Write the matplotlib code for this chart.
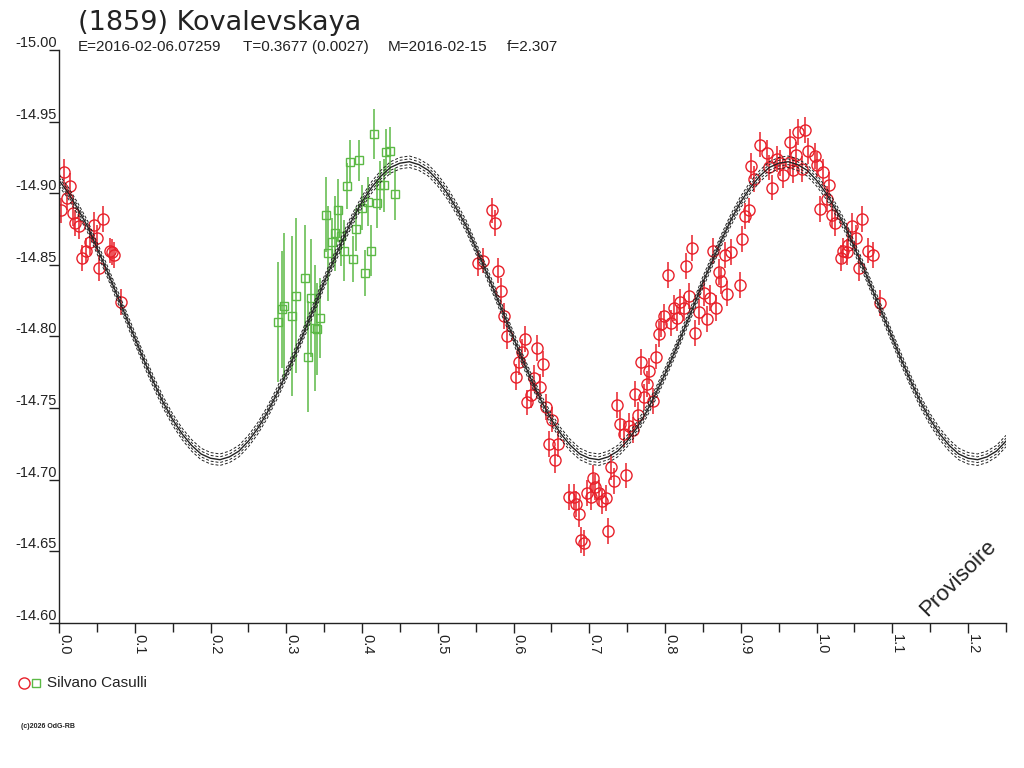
import matplotlib
matplotlib.use("Agg")
import matplotlib.pyplot as plt
from matplotlib.lines import Line2D
from matplotlib.ticker import MultipleLocator, FormatStrFormatter
import matplotlib.transforms as mtransforms

plt.rcParams['font.family'] = ['Liberation Sans', 'DejaVu Sans']

# ---------------- data ----------------
title = "(1859) Kovalevskaya"
sub_E = "E=2016-02-06.07259"
sub_T = "T=0.3677 (0.0027)"
sub_M = "M=2016-02-15"
sub_f = "f=2.307"
observer = "Silvano Casulli"

# fitted model curve, phase step 0.0125 from 0.0 to 1.25
curve_phase_step = 0.0125
curve_mag = [
    -14.909, -14.900, -14.889, -14.877, -14.862, -14.847, -14.831, -14.815, -14.799, -14.783,
    -14.768, -14.754, -14.742, -14.732, -14.724, -14.718, -14.715, -14.714, -14.716, -14.720,
    -14.727, -14.736, -14.747, -14.760, -14.774, -14.789, -14.805, -14.821, -14.838, -14.853,
    -14.868, -14.882, -14.894, -14.904, -14.912, -14.918, -14.921, -14.922, -14.920, -14.916,
    -14.909, -14.900, -14.889, -14.877, -14.862, -14.847, -14.831, -14.815, -14.799, -14.783,
    -14.768, -14.754, -14.742, -14.732, -14.724, -14.718, -14.715, -14.714, -14.716, -14.720,
    -14.727, -14.736, -14.747, -14.760, -14.774, -14.789, -14.805, -14.821, -14.838, -14.853,
    -14.868, -14.882, -14.894, -14.904, -14.912, -14.918, -14.921, -14.922, -14.920, -14.916,
    -14.909, -14.900, -14.889, -14.877, -14.862, -14.847, -14.831, -14.815, -14.799, -14.783,
    -14.768, -14.754, -14.742, -14.732, -14.724, -14.718, -14.715, -14.714, -14.716, -14.720,
    -14.727,
]
curve_spread = [-0.004, -0.002, 0.002, 0.004]

# red circles (session 1)
red_phase = [
    0.007, 0.0145, 0.010, 0.003, 0.018, 0.0215, 0.026, 0.046, 0.058, 0.050,
    0.041, 0.036, 0.030, 0.053, 0.067, 0.073, 0.070, 0.0815,
    0.571, 0.575, 0.553, 0.560, 0.5795, 0.583, 0.587, 0.591, 0.6147, 0.6305,
    0.6116, 0.6384, 0.6067, 0.6037, 0.6275, 0.6345, 0.6235, 0.618, 0.6424, 0.6509,
    0.6464, 0.6583, 0.6543,
    0.705, 0.7292, 0.7332, 0.749, 0.6737, 0.6803, 0.683, 0.686, 0.697, 0.7024,
    0.708, 0.7133, 0.7169, 0.7222, 0.7248, 0.6892, 0.6935,
    0.7367, 0.7411, 0.752, 0.7454,
    0.8349, 0.827, 0.8036, 0.8626, 0.8785, 0.8864, 0.9019, 0.871, 0.874, 0.882,
    0.8983, 0.8511, 0.8587, 0.8666, 0.8313, 0.8194, 0.8247, 0.8115, 0.8445, 0.8547,
    0.816, 0.7992, 0.8081, 0.7952, 0.7917, 0.8392, 0.7882, 0.7684, 0.7794, 0.7763,
    0.7605, 0.7728, 0.7843, 0.764, 0.7579,
    0.9251, 0.934, 0.9137, 0.9172, 0.9415, 0.937, 0.948, 0.9515, 0.9555, 0.9647,
    0.9758, 0.9845, 0.9727, 0.9647, 0.9692, 0.9811, 0.9885, 0.9977, 1.0009, 1.0088,
    1.0163, 1.0132, 1.0044, 1.0198, 1.0242, 1.0472, 1.0594, 1.0515, 1.0419, 1.0353,
    1.0317, 1.0406, 1.0683, 1.0749, 1.0559, 1.0836, 0.9106, 0.9053,
]
red_mag = [
    -14.915, -14.905, -14.897, -14.888, -14.886, -14.879, -14.877, -14.878, -14.882, -14.869,
    -14.866, -14.860, -14.855, -14.848, -14.860, -14.857, -14.859, -14.824,
    -14.888, -14.879, -14.851, -14.853, -14.846, -14.832, -14.8145, -14.800, -14.7985, -14.792,
    -14.789, -14.781, -14.782, -14.7715, -14.771, -14.7645, -14.759, -14.754, -14.751, -14.742,
    -14.725, -14.725, -14.714,
    -14.701, -14.7087, -14.699, -14.703, -14.688, -14.688, -14.683, -14.676, -14.691, -14.688,
    -14.695, -14.691, -14.685, -14.687, -14.664, -14.658, -14.656,
    -14.752, -14.739, -14.7375, -14.732,
    -14.8616, -14.849, -14.843, -14.8597, -14.857, -14.859, -14.868, -14.845, -14.839, -14.830,
    -14.836, -14.8306, -14.827, -14.8197, -14.8285, -14.824, -14.820, -14.820, -14.817, -14.812,
    -14.813, -14.814, -14.8096, -14.8085, -14.8017, -14.8027, -14.786, -14.782, -14.776, -14.767,
    -14.760, -14.758, -14.755, -14.745, -14.735,
    -14.934, -14.928, -14.919, -14.910, -14.904, -14.918, -14.924, -14.921, -14.913, -14.936,
    -14.9425, -14.944, -14.927, -14.922, -14.916, -14.917, -14.9295, -14.926, -14.920, -14.915,
    -14.9055, -14.896, -14.889, -14.885, -14.879, -14.877, -14.882, -14.869, -14.864, -14.860,
    -14.855, -14.859, -14.860, -14.857, -14.8476, -14.8236, -14.888, -14.884,
]
red_err = 0.009

# green squares (session 2)
green_phase = [
    0.2897, 0.2937, 0.2976, 0.3082, 0.3122, 0.325, 0.3289, 0.3325, 0.3373, 0.3404,
    0.3448, 0.3527, 0.3557, 0.3602, 0.3646, 0.3686, 0.3725, 0.3765, 0.380, 0.384,
    0.3884, 0.3923, 0.3963, 0.4003, 0.4042, 0.4082, 0.4122, 0.4161, 0.4197, 0.4237,
    0.4284, 0.4316, 0.4363, 0.4439,
]
green_mag = [
    -14.810, -14.819, -14.8215, -14.8145, -14.8285, -14.841, -14.786, -14.827, -14.806, -14.805,
    -14.813, -14.885, -14.858, -14.866, -14.872, -14.888, -14.870, -14.860, -14.905, -14.922,
    -14.854, -14.875, -14.923, -14.890, -14.8445, -14.894, -14.860, -14.9416, -14.893, -14.9055,
    -14.9055, -14.9286, -14.9295, -14.8995,
]
green_err = [
    0.042, 0.041, 0.051, 0.056, 0.054, 0.037, 0.039, 0.041, 0.044, 0.032,
    0.028, 0.026, 0.033, 0.017, 0.026, 0.022, 0.021, 0.0215, 0.016, 0.015,
    0.016, 0.015, 0.0145, 0.016, 0.016, 0.017, 0.018, 0.0175, 0.017, 0.017,
    0.0185, 0.016, 0.017, 0.018,
]

x_ticks = [0.0, 0.1, 0.2, 0.3, 0.4, 0.5, 0.6, 0.7, 0.8, 0.9, 1.0, 1.1, 1.2]
y_ticks = [-15.00, -14.95, -14.90, -14.85, -14.80, -14.75, -14.70, -14.65, -14.60]

# ---------------- figure ----------------
RED = '#e8202a'
GREEN = '#5cb946'
INK = '#222222'
W, H = 1024, 768

fig = plt.figure(figsize=(W / 100, H / 100), dpi=100)
ax = fig.add_axes([59 / W, 1 - 623 / H, 947 / W, 573 / H])

ax.errorbar(red_phase, red_mag, yerr=red_err, fmt='o', ms=8, mfc='none', mec=RED,
            mew=1.0, ecolor=RED, elinewidth=1.1, capsize=0, zorder=2)
ax.errorbar(green_phase, green_mag, yerr=green_err, fmt='s', ms=6, mfc='none', mec=GREEN,
            mew=1.0, ecolor=GREEN, elinewidth=1.1, capsize=0, zorder=2)

curve_phase = [i * curve_phase_step for i in range(len(curve_mag))]
ax.plot(curve_phase, curve_mag, color=INK, lw=1.0, zorder=3)
for d in curve_spread:
    ax.plot(curve_phase, [m + d for m in curve_mag], color=INK, lw=0.7,
            dashes=(3, 2), zorder=3)

ax.set_xlim(0, 1.25)
ax.set_ylim(-14.60, -15.00)

for s in ('top', 'right'):
    ax.spines[s].set_visible(False)
for s in ('left', 'bottom'):
    ax.spines[s].set_color(INK)
    ax.spines[s].set_linewidth(1.0)

ax.set_yticks(y_ticks)
ax.yaxis.set_major_formatter(FormatStrFormatter('%.2f'))
ax.tick_params(axis='y', direction='out', length=7.2, width=1.0, color=INK,
               labelsize=10.5, labelcolor=INK, pad=-5.8)
for lab in ax.get_yticklabels():
    lab.set_verticalalignment('bottom')

ax.set_xticks(x_ticks)
ax.xaxis.set_minor_locator(MultipleLocator(0.05))
ax.xaxis.set_major_formatter(FormatStrFormatter('%.1f'))
ax.tick_params(axis='x', which='major', direction='out', length=7.2, width=1.0,
               color=INK, labelsize=10.5, labelcolor=INK, pad=1.0)
ax.tick_params(axis='x', which='minor', direction='out', length=6.5, width=1.0, color=INK)
off = mtransforms.ScaledTranslation(-2 / 100, 0, fig.dpi_scale_trans)
for lab in ax.get_xticklabels():
    lab.set_rotation(-90)
    lab.set_horizontalalignment('left')
    lab.set_verticalalignment('top')
    lab.set_transform(lab.get_transform() + off)

# titles
fig.text(78 / W, 1 - 30 / H, title, fontsize=19.5, family='DejaVu Sans', color=INK,
         ha='left', va='baseline')
for txt, xp in ((sub_E, 78), (sub_T, 243), (sub_M, 388), (sub_f, 507)):
    fig.text(xp / W, 1 - 51 / H, txt, fontsize=11, color=INK, ha='left', va='baseline')

# watermark
ax.text(0.949, 0.0785, 'Provisoire', transform=ax.transAxes, rotation=45,
        fontsize=16, color=INK, ha='center', va='center')

# legend
fig.add_artist(Line2D([24 / W], [1 - 683 / H], marker='o', ms=8, mfc='none', mec=RED,
                      mew=1.0, transform=fig.transFigure))
fig.add_artist(Line2D([36 / W], [1 - 683 / H], marker='s', ms=6, mfc='none', mec=GREEN,
                      mew=1.0, transform=fig.transFigure))
fig.text(47 / W, 1 - 683 / H, observer, fontsize=11, color=INK, ha='left', va='center')

fig.text(21 / W, 1 - 726 / H, '(c)2026 OdG-RB', fontsize=5, weight='bold', color=INK,
         ha='left', va='center')

fig.savefig('out.png', dpi=100)
